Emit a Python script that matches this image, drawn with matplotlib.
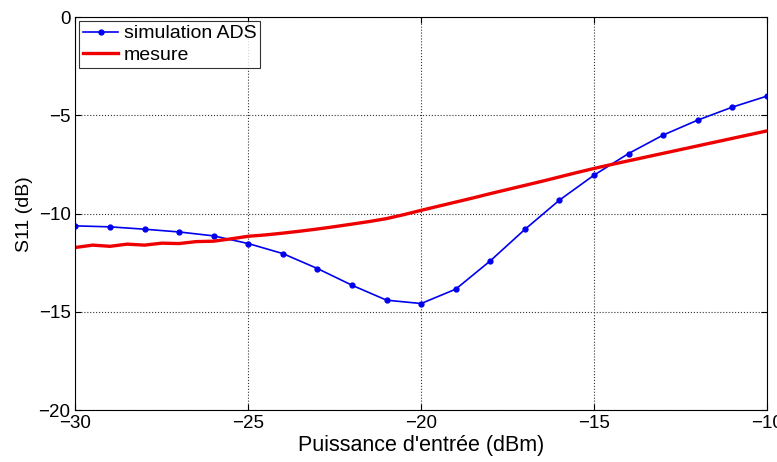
"""
S11 : simulation ADS vs mesure
"""
import matplotlib
matplotlib.use("Agg")
import matplotlib.pyplot as plt
import numpy as np

plt.rcParams["font.family"] = ["Liberation Sans", "DejaVu Sans"]

# simulation ADS, un point par dBm
p_sim = np.arange(-30, -9, 1)
s11_sim = [-10.62, -10.67, -10.79, -10.93, -11.13, -11.52, -12.03, -12.79, -13.64, -14.4,
           -14.57, -13.84, -12.4, -10.8, -9.31, -8.04, -6.94, -6.0, -5.24, -4.58, -4.02]

# mesure, relevée tous les 0.5 dBm (-30 ... -10)
p_mes = np.arange(-30, -9.9, 0.5)
s11_mes = [-11.72, -11.6, -11.66, -11.55, -11.6, -11.5, -11.52, -11.42, -11.4, -11.28,
           -11.15, -11.08, -10.99, -10.89, -10.78, -10.66, -10.53, -10.4, -10.25, -10.05,
           -9.83, -9.62, -9.41, -9.2, -8.98, -8.77, -8.56, -8.35, -8.13, -7.91,
           -7.7, -7.5, -7.31, -7.12, -6.93, -6.74, -6.55, -6.36, -6.17, -5.98, -5.79]

fig = plt.figure(figsize=(7.77, 4.62), dpi=100)
ax = fig.add_axes([0.097, 0.112, 0.89, 0.851])

ax.plot(p_sim, s11_sim, color="#0000ee", lw=1.2, marker="o", ms=3.5, label="simulation ADS")
ax.plot(p_mes, s11_mes, color="#ee0000", lw=2.4, label="mesure")

ax.set_xlim(-30, -10)
ax.set_ylim(-20, 0)
ax.set_xticks([-30, -25, -20, -15, -10])
ax.set_yticks([-20, -15, -10, -5, 0])
ax.grid(True, color="#333333", linestyle=":", linewidth=0.8)
ax.tick_params(labelsize=13.5, direction="in", length=4, top=True, right=True)
ax.set_xlabel("Puissance d'entrée (dBm)", fontsize=15.5, labelpad=2)
ax.set_ylabel("S11 (dB)", fontsize=14)

leg = ax.legend(loc="upper left", fontsize=14, frameon=True, fancybox=False,
                borderaxespad=0.2, handlelength=1.8, handletextpad=0.3,
                borderpad=0.2, labelspacing=0.2)
leg.get_frame().set_edgecolor("black")
leg.get_frame().set_linewidth(0.8)

fig.savefig("out.png", dpi=100)
